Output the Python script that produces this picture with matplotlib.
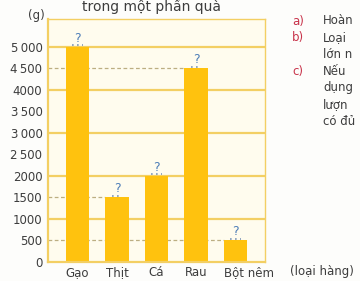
import matplotlib
matplotlib.use("Agg")
import matplotlib.pyplot as plt
import matplotlib.transforms as mtransforms

# data
categories = ["Gạo", "Thịt", "Cá", "Rau", "Bột nêm"]
masses = [5000, 1500, 2000, 4500, 500]
ytick_values = [0, 500, 1000, 1500, 2000, 2500, 3000, 3500, 4000, 4500, 5000]
ytick_labels = ["0", "500", "1000", "1500", "2000", "2\u2009500", "3\u2009000",
                "3\u2009500", "4000", "4\u2009500", "5\u2009000"]
side_labels = ["a)", "b)", "", "c)", "", "", ""]
side_lines = ["Hoàn", "Loại", "lớn n", "Nếu", "dụng", "lượn", "có đủ"]

bar_color = "#ffc20e"
grid_color = "#f3cf63"
text_color = "#3d3d3d"

fig = plt.figure(figsize=(3.6, 2.81), dpi=100, facecolor="#fdfdfb")
ax = fig.add_axes([48 / 360, 19 / 281, 217 / 360, 243 / 281])
ax.set_facecolor("#fffcee")

x = list(range(len(categories)))
width = 0.6
ax.set_xlim(-0.75, 4.75)
ax.set_ylim(0, 5650)

# solid grid lines every 1000
for v in ytick_values:
    if v > 0 and v % 1000 == 0:
        ax.axhline(v, color=grid_color, lw=1.6, zorder=1)

# dashed helper lines from the axis to the bar
for i, v in enumerate(masses):
    if v % 1000:
        ax.hlines(v, -0.75, i - width / 2, colors="#bcae82", linestyles=(0, (3, 2)),
                  lw=0.9, zorder=1)

ax.bar(x, masses, width=width, color=bar_color, zorder=2)

# question marks with dotted placeholder
for i, v in enumerate(masses):
    ax.plot([i - 0.13, i + 0.13], [v + 40, v + 40], ls=(0, (1, 2)), color="#7f98b8",
            lw=1.2, zorder=3)
    ax.text(i, v + 50, "?", ha="center", va="bottom", fontsize=9, color="#4f7fb8",
            zorder=3)

for side, s in ax.spines.items():
    s.set_color(grid_color)
    s.set_linewidth(1.6 if side in ("left", "bottom") else 1.0)

ax.set_yticks(ytick_values)
ax.set_yticklabels(ytick_labels)
ax.set_xticks(x)
ax.set_xticklabels(categories)
ax.tick_params(length=0, labelsize=8.5, labelcolor=text_color)
ax.tick_params(axis="y", pad=4)
ax.tick_params(axis="x", pad=3)

# last category label sits a bit to the right
last = ax.get_xticklabels()[-1]
last.set_transform(last.get_transform() +
                   mtransforms.ScaledTranslation(14 / 100, 0, fig.dpi_scale_trans))

fig.text(322 / 360, 1 - 271 / 281, "(loại hàng)", ha="center", va="center",
         fontsize=8.5, color=text_color)
fig.text(45 / 360, 1 - 16 / 281, "(g)", ha="right", va="center", fontsize=8.5,
         color=text_color)
fig.text(152 / 360, 1 - 11 / 281, "trong một phần quà", ha="center", va="baseline",
         fontsize=10, color=text_color)

for k, (lab, line) in enumerate(zip(side_labels, side_lines)):
    y = 1 - (21 + 16.7 * k) / 281
    if lab:
        fig.text(292 / 360, y, lab, ha="left", va="center", fontsize=8.5, color="#c8334a")
    fig.text(323 / 360, y, line, ha="left", va="center", fontsize=8.5, color=text_color)

fig.savefig("out.png", dpi=100, facecolor=fig.get_facecolor())
